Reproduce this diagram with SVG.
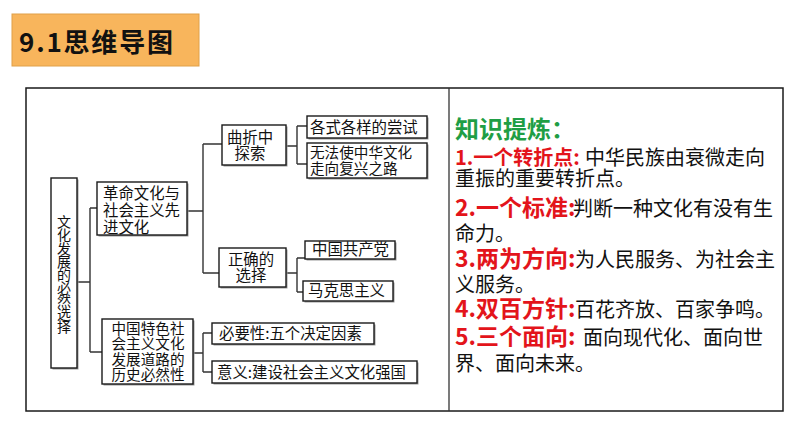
<svg xmlns="http://www.w3.org/2000/svg" width="794" height="447" viewBox="0 0 794 447">
<defs>
<style>
.box{fill:#fff;stroke:#1a1a1a;stroke-width:1.4}
.sh{fill:#9a9a9a}
.t{font-family:"Noto Sans CJK SC","Noto Sans",sans-serif;font-size:15.4px;fill:#111}
.t2{font-size:14.6px}
.m{text-anchor:middle}
.con path{fill:none;stroke:#333;stroke-width:1.4}
.kp{font-family:"Noto Sans CJK SC","Noto Sans",sans-serif;font-size:20px;fill:#111}
.red{font-weight:bold;fill:#e3141b;font-size:23px}
.grn{font-weight:bold;fill:#1f9e45;font-size:24px}
</style>
</defs>
<rect width="794" height="447" fill="#fff"/>
<g id="title">
<rect x="12" y="14" width="187" height="52" fill="#f8b55c" stroke="#e0a048" stroke-width="1"/>
<text x="19" y="52" font-family="Noto Sans CJK SC, sans-serif" font-weight="bold" font-size="26" fill="#111" textLength="154">9.1思维导图</text>
</g>
<g id="frame">
<rect x="26" y="88" width="757" height="323" fill="none" stroke="#1a1a1a" stroke-width="1.5"/>
<line x1="449" y1="88" x2="449" y2="411" stroke="#333" stroke-width="1.3"/>
</g>
<g class="con" id="connectors">
<path d="M77,282 H90 M90,208 V352 M90,208 H97 M90,352 H102"/>
<path d="M187,211 H203 M203,144 V273 M203,144 H222 M203,273 H219"/>
<path d="M286,146 H297 M297,126 V164 M297,126 H307 M297,164 H307"/>
<path d="M286,273 H297 M297,258 V292 M297,258 H305 M297,292 H303"/>
<path d="M193,353 H203 M203,333 V372 M203,333 H212 M203,372 H212"/>
</g>
<g id="root">
<rect class="sh" x="52.5" y="179.5" width="26" height="190"/>
<rect class="box" x="51" y="178" width="26" height="190"/>
<text class="t" style="font-size:14px;letter-spacing:-0.9px" writing-mode="vertical-rl" x="64" y="215">文化发展的必然选择</text>
</g>
<g id="n1">
<rect class="sh" x="98.5" y="183.5" width="90" height="53"/>
<rect class="box" x="97" y="182" width="90" height="53"/>
<text class="t"><tspan x="103" y="199">革命文化与</tspan><tspan x="103" y="216">社会主义先</tspan><tspan x="103" y="233">进文化</tspan></text>
</g>
<g id="n11">
<rect class="sh" x="223.5" y="126.5" width="64" height="40"/>
<rect class="box" x="222" y="125" width="64" height="40"/>
<text class="t m"><tspan x="250" y="143">曲折中</tspan><tspan x="250" y="159">探索</tspan></text>
</g>
<g id="n111">
<rect class="sh" x="308.5" y="117.5" width="120" height="22"/>
<rect class="box" x="307" y="116" width="120" height="22"/>
<text class="t" x="310" y="133">各式各样的尝试</text>
</g>
<g id="n112">
<rect class="sh" x="308.5" y="144.5" width="120" height="35"/>
<rect class="box" x="307" y="143" width="120" height="35"/>
<text class="t t2"><tspan x="310" y="158">无法使中华文化</tspan><tspan x="310" y="174">走向复兴之路</tspan></text>
</g>
<g id="n12">
<rect class="sh" x="220.5" y="249.5" width="67" height="39"/>
<rect class="box" x="219" y="248" width="67" height="39"/>
<text class="t m"><tspan x="251" y="265">正确的</tspan><tspan x="251" y="281">选择</tspan></text>
</g>
<g id="n121">
<rect class="sh" x="306.5" y="242.5" width="90" height="18"/>
<rect class="box" x="305" y="241" width="90" height="18"/>
<text class="t" x="312" y="255">中国共产党</text>
</g>
<g id="n122">
<rect class="sh" x="304.5" y="282.5" width="90" height="20"/>
<rect class="box" x="303" y="281" width="90" height="20"/>
<text class="t" x="308" y="296">马克思主义</text>
</g>
<g id="n2">
<rect class="sh" x="103.5" y="320.5" width="91" height="65"/>
<rect class="box" x="102" y="319" width="91" height="65"/>
<text class="t t2 m"><tspan x="148" y="334">中国特色社</tspan><tspan x="148" y="349">会主义文化</tspan><tspan x="148" y="364.5">发展道路的</tspan><tspan x="148" y="380">历史必然性</tspan></text>
</g>
<g id="n21">
<rect class="sh" x="213.5" y="324.5" width="162" height="21"/>
<rect class="box" x="212" y="323" width="162" height="21"/>
<text class="t" x="219" y="339">必要性:五个决定因素</text>
</g>
<g id="n22">
<rect class="sh" x="213.5" y="362.5" width="205" height="22"/>
<rect class="box" x="212" y="361" width="205" height="22"/>
<text class="t" x="217" y="378">意义:建设社会主义文化强国</text>
</g>
<g id="knowledge">
<text class="kp"><tspan class="grn" x="455" y="138">知识提炼：</tspan><tspan class="red" style="font-size:20px" x="455" y="165">1.一个转折点:</tspan><tspan x="585" y="165">中华民族由衰微走向</tspan><tspan x="455" y="186">重振的重要转折点。</tspan><tspan class="red" x="455" y="216">2.一个标准:</tspan><tspan x="573" y="216">判断一种文化有没有生</tspan><tspan x="455" y="241">命力。</tspan><tspan class="red" x="455" y="267">3.两为方向:</tspan><tspan x="575" y="267">为人民服务、为社会主</tspan><tspan x="455" y="292">义服务。</tspan><tspan class="red" x="455" y="317">4.双百方针:</tspan><tspan x="575" y="317">百花齐放、百家争鸣。</tspan><tspan class="red" x="455" y="345">5.三个面向:</tspan><tspan x="583" y="345">面向现代化、面向世</tspan><tspan x="455" y="371">界、面向未来。</tspan></text>
</g>
</svg>
